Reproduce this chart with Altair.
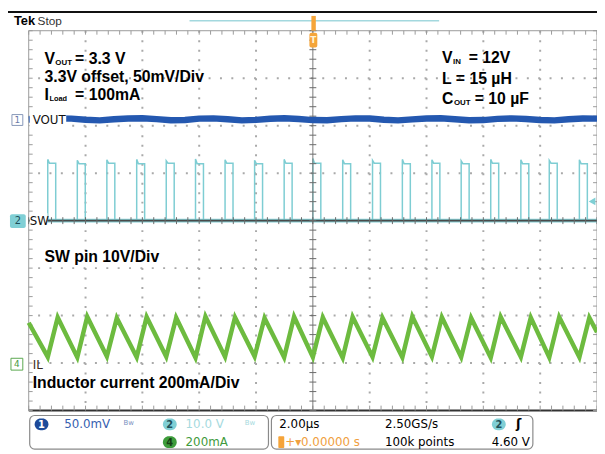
import altair as alt
import pandas as pd

# ---------------- values ----------------
# horizontal: 2.00 us/div, 10 divisions, trigger (t = 0) at centre
T_DOMAIN_US = [-10, 10]
DIV_DOMAIN = [-4, 4]

# channel scale / position (position in divisions from screen centre)
VOUT_MV_PER_DIV = 50.0
VOUT_POS_DIV = 2.13
SW_V_PER_DIV = 10.0
SW_POS_DIV = 0.0
IL_MA_PER_DIV = 200.0
IL_POS_DIV = -3.0

# SW pin (ch2) switching edges, us
SW_RISE_US = [-9.33, -8.29, -7.25, -6.20, -5.16, -4.13, -3.09, -2.05, -1.01, 0.00,
              1.05, 2.10, 3.15, 4.19, 5.22, 6.26, 7.32, 8.32, 9.38]
SW_FALL_US = [-9.05, -8.01, -6.97, -5.92, -4.88, -3.85, -2.81, -1.77, -0.73, 0.28,
              1.33, 2.38, 3.43, 4.47, 5.50, 6.54, 7.60, 8.60, 9.66]
SW_PEAK_V = [12.9, 12.7, 12.8, 12.9, 12.6, 13.0, 12.8, 12.7, 12.9, 13.1,
             12.8, 12.7, 12.9, 12.8, 12.6, 12.9, 12.8, 12.7, 12.8]
SW_HIGH_V = [12.1, 12.0, 12.1, 12.0, 12.1, 12.0, 12.1, 12.0, 12.1, 12.1,
             12.0, 12.1, 12.0, 12.1, 12.0, 12.1, 12.0, 12.1, 12.0]

# inductor current (ch4): valleys at turn-on, peaks shortly after turn-off
IL_START_MA = 170
IL_END_MA = 130
IL_VALLEY_US = [-9.33, -8.29, -7.25, -6.20, -5.16, -4.13, -3.09, -2.05, -1.01, 0.00,
                1.05, 2.10, 3.15, 4.19, 5.22, 6.26, 7.32, 8.32, 9.38]
IL_VALLEY_MA = [26, 24, 28, 25, 27, 23, 26, 28, 24, 25, 22, 26, 24, 27, 25, 23, 26, 24, 25]
IL_PEAK_US = [-8.98, -7.94, -6.90, -5.85, -4.81, -3.78, -2.74, -1.70, -0.66, 0.35,
              1.40, 2.45, 3.50, 4.54, 5.57, 6.61, 7.67, 8.67, 9.73]
IL_PEAK_MA = [192, 195, 190, 194, 191, 196, 193, 190, 195, 192,
              194, 191, 196, 193, 190, 195, 192, 194, 191]

# output voltage ripple (ch1, 3.3 V offset), mV
VOUT_T_US = [-10.0, -9.5, -9.0, -8.5, -8.0, -7.5, -7.0, -6.5, -6.0, -5.5, -5.0,
             -4.5, -4.0, -3.5, -3.0, -2.5, -2.0, -1.5, -1.0, -0.5, 0.0,
             0.5, 1.0, 1.5, 2.0, 2.5, 3.0, 3.5, 4.0, 4.5, 5.0,
             5.5, 6.0, 6.5, 7.0, 7.5, 8.0, 8.5, 9.0, 9.5, 10.0]
VOUT_MV = [0.0, 0.8, 1.2, 0.9, -0.3, -0.9, 0.2, 1.1, 1.3, 0.4, -0.8,
           -0.5, 0.9, 1.2, 0.3, -0.9, -0.4, 0.8, 1.3, 0.5, -0.6,
           -0.8, 0.4, 1.2, 1.0, -0.2, -0.9, 0.1, 1.1, 1.3, 0.3,
           -0.8, -0.6, 0.7, 1.2, 0.6, -0.5, -0.9, 0.3, 1.1, 0.9]

# graticule
GRID_T = [-8, -6, -4, -2, 2, 4, 6, 8]
GRID_D = [-3, -2, -1, 1, 2, 3]
MINOR_T = [-10 + 0.4 * k for k in range(51)]
MINOR_D = [-4 + 0.2 * k for k in range(41)]

# ---------------- tables ----------------
rows = [(-10.0, 0.0)]
for r, f, pk, hi in zip(SW_RISE_US, SW_FALL_US, SW_PEAK_V, SW_HIGH_V):
    rows += [(r, 0.0), (r, pk), (r + 0.06, hi), (f, hi), (f, 0.0)]
rows.append((10.0, 0.0))
sw = pd.DataFrame(rows, columns=["t", "v"])
sw["d"] = SW_POS_DIV + sw["v"] / SW_V_PER_DIV
sw["i"] = range(len(sw))

rows = [(-10.0, IL_START_MA)]
for vt, vv, pt, pv in zip(IL_VALLEY_US, IL_VALLEY_MA, IL_PEAK_US, IL_PEAK_MA):
    rows += [(vt, vv), (pt, pv)]
rows.append((10.0, IL_END_MA))
il = pd.DataFrame(rows, columns=["t", "v"])
il["d"] = IL_POS_DIV + il["v"] / IL_MA_PER_DIV
il["i"] = range(len(il))

vo = pd.DataFrame({"t": VOUT_T_US, "v": VOUT_MV})
vo["d"] = VOUT_POS_DIV + vo["v"] / VOUT_MV_PER_DIV
vo["i"] = range(len(vo))

XS = alt.Scale(domain=T_DOMAIN_US, nice=False, zero=False)
YS = alt.Scale(domain=DIV_DOMAIN, nice=False, zero=False)
ONE = pd.DataFrame({"k": [0]})

W, H = 576, 385
CX, CY = 288, 192.5


def xenc(f="t"):
    return alt.X(f + ":Q", scale=XS, axis=None)


def yenc(f="d"):
    return alt.Y(f + ":Q", scale=YS, axis=None)


def trace(df, color, width):
    return alt.Chart(df).mark_line(color=color, strokeWidth=width).encode(
        x=xenc(), y=yenc(), order="i:Q")


def label(x, y, text, size=12, color="#000000", weight="normal",
          font="DejaVu Sans", align="left"):
    return alt.Chart(ONE).mark_text(
        text=text, fontSize=size, color=color, fontWeight=weight,
        font=font, align=align, baseline="middle").encode(x=alt.value(x), y=alt.value(y))


def box(x1, y1, x2, y2, fill="#ffffff", stroke=None, sw_=1.0, r=0):
    kw = dict(fill=fill, cornerRadius=r)
    if stroke:
        kw.update(stroke=stroke, strokeWidth=sw_)
    return alt.Chart(ONE).mark_rect(**kw).encode(
        x=alt.value(x1), x2=alt.value(x2), y=alt.value(y1), y2=alt.value(y2))


def seg(x1, y1, x2, y2, color, width):
    return alt.Chart(ONE).mark_rule(color=color, strokeWidth=width).encode(
        x=alt.value(x1), x2=alt.value(x2), y=alt.value(y1), y2=alt.value(y2))


layers = []

# dotted graticule
layers.append(alt.Chart(pd.DataFrame({"t": GRID_T})).mark_rule(
    color="#a9a9a9", strokeWidth=2, strokeDash=[2, 7.625]).encode(x=xenc()))
layers.append(alt.Chart(pd.DataFrame({"d": GRID_D})).mark_rule(
    color="#a9a9a9", strokeWidth=2, strokeDash=[2, 9.52]).encode(y=yenc()))

# frame
layers.append(alt.Chart(pd.DataFrame({"t": [-10, 10]})).mark_rule(
    color="#9a9a9a", strokeWidth=1).encode(x=xenc()))
layers.append(alt.Chart(pd.DataFrame({"d": [4]})).mark_rule(
    color="#9a9a9a", strokeWidth=1).encode(y=yenc()))
layers.append(alt.Chart(pd.DataFrame({"d": [-4]})).mark_rule(
    color="#333333", strokeWidth=2).encode(y=yenc()))
mt = pd.DataFrame({"t": MINOR_T})
md = pd.DataFrame({"d": MINOR_D})
layers.append(alt.Chart(mt).mark_rule(color="#9a9a9a").encode(
    x=xenc(), y=alt.value(0), y2=alt.value(4)))
layers.append(alt.Chart(mt).mark_rule(color="#9a9a9a").encode(
    x=xenc(), y=alt.value(H - 5), y2=alt.value(H)))
layers.append(alt.Chart(md).mark_rule(color="#9a9a9a").encode(
    y=yenc(), x=alt.value(0), x2=alt.value(4)))
layers.append(alt.Chart(md).mark_rule(color="#9a9a9a").encode(
    y=yenc(), x=alt.value(W - 4), x2=alt.value(W)))

# SW trace (ch2) with its noisy low level
layers.append(alt.Chart(pd.DataFrame({"t": [-10], "t2": [10], "d": [SW_POS_DIV]})).mark_rule(
    color="#86d0d6", strokeWidth=4).encode(x=xenc(), x2="t2:Q", y=yenc()))
layers.append(trace(sw, "#7ecdd3", 1.5))

# centre cross with minor ticks
layers.append(alt.Chart(pd.DataFrame({"t": [0]})).mark_rule(
    color="#7a7a7a", strokeWidth=1).encode(x=xenc()))
layers.append(alt.Chart(pd.DataFrame({"d": [0]})).mark_rule(
    color="#4a4a4a", strokeWidth=1.6).encode(y=yenc()))
layers.append(alt.Chart(mt).mark_rule(color="#6a6a6a").encode(
    x=xenc(), y=alt.value(CY - 3.5), y2=alt.value(CY + 3.5)))
layers.append(alt.Chart(md).mark_rule(color="#6a6a6a").encode(
    y=yenc(), x=alt.value(CX - 3.5), x2=alt.value(CX + 3.5)))

# IL and VOUT traces
layers.append(trace(il, "#6dbb3f", 4.5))
layers.append(trace(vo, "#2458b0", 6.5))

# label backgrounds covering trace starts
layers.append(box(1, 83, 38, 99))
layers.append(box(1, 185, 19, 201))

# channel tags and names
layers.append(box(-17, 85, -6, 96, stroke="#8696b8"))
layers.append(label(-11.5, 90.5, "1", size=9, color="#6a7aa8", align="center"))
layers.append(label(4, 91, "VOUT", size=12, color="#111111"))
layers.append(box(-19, 186, -3, 200, fill="#80cfd5", r=2))
layers.append(label(-11, 193, "2", size=10, color="#1d4e58", align="center"))
layers.append(label(1, 193, "SW", size=12, color="#111111"))
layers.append(box(-18, 332, -6, 344, stroke="#5aa84e"))
layers.append(label(-12, 338, "4", size=9, color="#4a9a40", align="center"))
layers.append(label(4, 339, "IL", size=12, color="#3a2a20"))

# annotations
AF = "Liberation Sans"
FS = 16


def ann(x, y, t, size=FS):
    return label(x, y, t, size=size, color="#000000", weight="bold", font=AF)


layers += [
    ann(16, 29, "V"), ann(27, 33, "OUT", 8), ann(47, 29, "= 3.3 V"),
    ann(16, 47, "3.3V offset, 50mV/Div"),
    ann(16, 65, "I"), ann(21, 69, "Load", 7.5), ann(47, 65, "= 100mA"),
    ann(419, 28, "V"), ann(430, 32, "IN", 8), ann(446, 28, "= 12V"),
    ann(419, 49, "L = 15 µH"),
    ann(419, 69, "C"), ann(431, 73, "OUT", 8), ann(452, 69, "= 10 µF"),
    ann(16, 229, "SW pin 10V/Div"),
    ann(4, 357, "Inductor current 200mA/Div"),
]

# top status bar
layers.append(seg(-21, -19, W, -19, "#111111", 2))
layers.append(label(-15, -10, "Tek", size=13, weight="bold", font=AF))
layers.append(label(9, -10, "Stop", size=12, color="#333333", font=AF))
layers.append(seg(163, -10, 416, -10, "#a3d8de", 1.5))
layers.append(box(286.5, -15, 291, 0, fill="#f5a53a"))
layers.append(box(284.5, 2, 292.5, 17, fill="#f5a53a", r=2))
layers.append(label(288.5, 9.5, "T", size=9, color="#fff3d6", weight="bold", align="center"))
layers.append(alt.Chart(ONE).mark_point(shape="triangle-left", filled=True, color="#7fcfd4",
                                         size=60, opacity=1).encode(x=alt.value(571), y=alt.value(173)))

# bottom info panels
layers.append(box(1, 390, 243, 424, stroke="#8a8a8a", sw_=1.2, r=5))
layers.append(box(246, 390, 511, 424, stroke="#8a8a8a", sw_=1.2, r=5))
layers.append(box(6, 393, 20, 405, fill="#1d4a9a", r=6))
layers.append(label(13, 399.5, "1", size=10, color="#ffffff", weight="bold", align="center"))
layers.append(label(36, 399, "50.0mV", color="#3560b0"))
layers.append(label(96, 398, "Bw", size=7, color="#7a90c0"))
layers.append(box(136, 393, 150, 405, fill="#80cfd5", r=6))
layers.append(label(143, 399.5, "2", size=10, color="#21505a", weight="bold", align="center"))
layers.append(label(159, 399, "10.0 V", color="#a6dade"))
layers.append(label(219, 398, "Bw", size=7, color="#a6dade"))
layers.append(box(136, 411, 150, 423, fill="#3d9c3b", r=6))
layers.append(label(143, 417.5, "4", size=10, color="#173f16", weight="bold", align="center"))
layers.append(label(159, 417, "200mA", color="#3f9a3c"))

layers.append(label(254, 399, "2.00µs"))
layers.append(label(361, 399, "2.50GS/s"))
layers.append(box(469.5, 393, 483.5, 405, fill="#80cfd5", r=6))
layers.append(label(476.5, 399.5, "2", size=10, color="#21505a", weight="bold", align="center"))
layers.append(label(494, 399, "ʃ", size=13, weight="bold"))
layers.append(box(253, 411, 259, 423, fill="#f5a43a", r=1))
layers.append(label(260, 417, "+▾0.00000 s", color="#f0a040"))
layers.append(label(361, 417, "100k points"))
layers.append(label(508, 417, "4.60 V", align="right"))

chart = alt.layer(*layers).properties(
    width=W, height=H,
    autosize=alt.AutoSizeParams(type="none"),
    padding={"left": 21, "top": 20, "right": 0, "bottom": 41},
    background="#ffffff",
).configure_view(strokeWidth=0)

chart.save("out.html", embed_options={"renderer": "svg", "actions": False})
